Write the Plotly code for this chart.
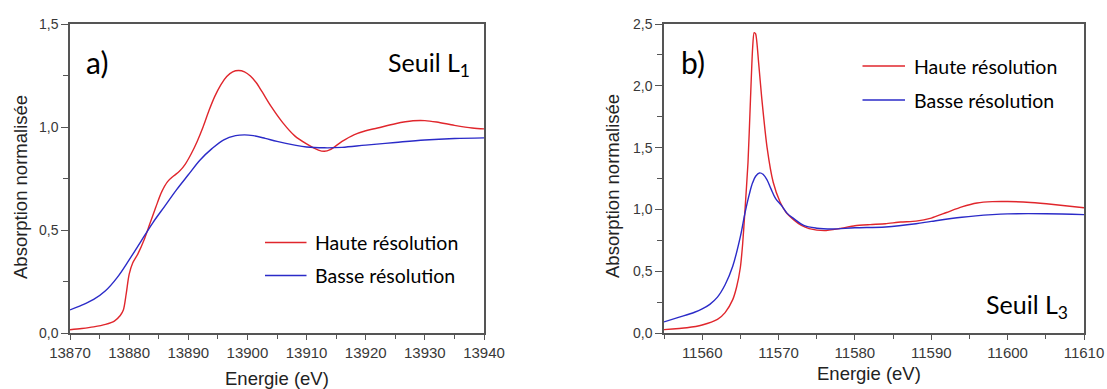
import plotly.graph_objects as go

# ---- data ----
# panel a) : seuil L1
energie_a = [13870, 13872, 13874, 13876, 13877.5, 13878.5, 13879, 13879.5, 13880, 13880.6,
             13881.5, 13882.5, 13883.5, 13884.5, 13885.5, 13886.5, 13887.5, 13888.5, 13889.5,
             13890.5, 13891.5, 13892.5, 13893.5, 13894.5, 13895.5, 13896.5, 13897.5, 13898.5,
             13899.5, 13900.5, 13901.5, 13902.5, 13904, 13906, 13908, 13910, 13912, 13913,
             13914, 13916, 13918, 13920, 13922, 13925, 13928, 13930, 13932, 13935, 13938, 13940]
haute_a = [0.016, 0.022, 0.030, 0.042, 0.058, 0.085, 0.11, 0.19, 0.285, 0.34,
           0.385, 0.45, 0.53, 0.61, 0.685, 0.735, 0.762, 0.785, 0.82,
           0.87, 0.93, 1.00, 1.08, 1.15, 1.205, 1.245, 1.268, 1.274,
           1.268, 1.248, 1.215, 1.17, 1.10, 1.02, 0.957, 0.918, 0.888, 0.882,
           0.89, 0.93, 0.962, 0.982, 0.995, 1.016, 1.030, 1.031, 1.024, 1.008, 0.995, 0.991]

energie_a_basse = [13870, 13872, 13874, 13876, 13878, 13880, 13882, 13884, 13886, 13888,
                   13890, 13892, 13894, 13896, 13898, 13899.5, 13901, 13903, 13905, 13908,
                   13910, 13913, 13916, 13920, 13925, 13930, 13935, 13940]
basse_a = [0.112, 0.135, 0.163, 0.205, 0.27, 0.355, 0.445, 0.535, 0.615, 0.695,
           0.768, 0.84, 0.895, 0.938, 0.958, 0.962, 0.958, 0.945, 0.93, 0.912,
           0.903, 0.899, 0.901, 0.912, 0.925, 0.937, 0.944, 0.947]

# panel b) : seuil L3
energie_b = [11555, 11558, 11560, 11562, 11563, 11564, 11564.5, 11565, 11565.3, 11565.6,
             11566, 11566.3, 11566.6, 11566.8, 11567.0, 11567.4, 11567.8, 11568.5, 11569.3,
             11570.2, 11571, 11572, 11573, 11574, 11576, 11578, 11580, 11582, 11584, 11586,
             11588, 11590, 11592, 11594, 11596, 11598, 11600, 11603, 11606, 11610]
haute_b = [0.027, 0.043, 0.065, 0.11, 0.165, 0.27, 0.37, 0.53, 0.72, 0.99,
           1.38, 1.85, 2.30, 2.43, 2.42, 2.18, 1.90, 1.50, 1.22,
           1.06, 0.975, 0.915, 0.87, 0.845, 0.828, 0.845, 0.868, 0.877, 0.884, 0.898,
           0.905, 0.93, 0.975, 1.02, 1.052, 1.063, 1.064, 1.056, 1.04, 1.013]

energie_b_basse = [11555, 11557, 11559, 11560, 11561, 11562, 11563, 11564, 11565, 11565.6,
                   11566.2, 11566.6, 11567.0, 11567.5, 11568.0, 11568.5, 11569, 11569.6,
                   11570.4, 11571.1, 11572, 11573.3, 11575, 11577, 11580, 11584, 11588,
                   11590, 11594, 11598, 11600, 11605, 11610]
basse_b = [0.09, 0.128, 0.168, 0.195, 0.232, 0.29, 0.39, 0.54, 0.78, 0.97,
           1.13, 1.215, 1.268, 1.295, 1.282, 1.238, 1.168, 1.09,
           1.03, 0.97, 0.925, 0.87, 0.848, 0.842, 0.851, 0.858, 0.884,
           0.903, 0.937, 0.958, 0.964, 0.965, 0.958]

noms = ["Haute résolution", "Basse résolution"]
ROUGE = "#e0262c"
BLEU = "#2b2bc8"

W, H = 1107, 389


def px(x):
    return x / W


def py(y):
    return 1 - y / H


fig = go.Figure()

# traces
fig.add_trace(go.Scatter(x=energie_a, y=haute_a, mode="lines", name=noms[0],
                         line=dict(color=ROUGE, width=1.4, shape="spline", smoothing=0.9),
                         xaxis="x", yaxis="y", showlegend=False))
fig.add_trace(go.Scatter(x=energie_a_basse, y=basse_a, mode="lines", name=noms[1],
                         line=dict(color=BLEU, width=1.4, shape="spline", smoothing=1),
                         xaxis="x", yaxis="y", showlegend=False))
fig.add_trace(go.Scatter(x=energie_b, y=haute_b, mode="lines", name=noms[0],
                         line=dict(color=ROUGE, width=1.4, shape="spline", smoothing=0.6),
                         xaxis="x2", yaxis="y2", showlegend=False))
fig.add_trace(go.Scatter(x=energie_b_basse, y=basse_b, mode="lines", name=noms[1],
                         line=dict(color=BLEU, width=1.4, shape="spline", smoothing=1),
                         xaxis="x2", yaxis="y2", showlegend=False))

AXE = "#555555"
TICKFONT_X = dict(family="Liberation Sans, Arial", size=15, color="#383838")
TICKFONT_Y = dict(family="Liberation Sans, Arial", size=14, color="#383838")

common_x = dict(showline=True, linecolor=AXE, linewidth=1.5, mirror=True,
                ticks="outside", ticklen=5, tickwidth=1.2, tickcolor=AXE,
                showgrid=False, zeroline=False, tickformat="d", dtick=10,
                tickfont=TICKFONT_X, automargin=False, ticklabeloverflow="allow",
                minor=dict(ticks="outside", ticklen=4, dtick=5, tickcolor=AXE, showgrid=False))
common_y = dict(showline=True, linecolor=AXE, linewidth=1.5, mirror=True,
                ticks="outside", ticklen=7, tickwidth=1.2, tickcolor=AXE,
                showgrid=False, zeroline=False, tickformat=".1f", dtick=0.5,
                tickfont=TICKFONT_Y, automargin=False, ticklabeloverflow="allow",
                minor=dict(ticks="outside", ticklen=5, dtick=0.25, tickcolor=AXE, showgrid=False))

y_dom = [py(333), py(24)]

fig.update_layout(
    width=W, height=H,
    margin=dict(l=0, r=0, t=0, b=0),
    paper_bgcolor="white", plot_bgcolor="white",
    separators=", ",
    xaxis=dict(domain=[px(70), px(484)], range=[13870, 13940], anchor="y", tick0=13870, **common_x),
    yaxis=dict(domain=y_dom, range=[0, 1.5], anchor="x", **common_y),
    xaxis2=dict(domain=[px(664), px(1084)], range=[11555, 11610], anchor="y2", tick0=11560, **common_x),
    yaxis2=dict(domain=y_dom, range=[0, 2.5], anchor="x2", **common_y),
)

TITRE = dict(family="Liberation Sans, Arial", size=18.5, color="#222222")
LEG = dict(family="Lato, Noto Sans", size=19.5, color="black")

annotations = [
    # axis titles
    dict(text="Energie (eV)", x=px(277), y=py(378), font=TITRE),
    dict(text="Energie (eV)", x=px(869), y=py(373), font=TITRE),
    dict(text="Absorption normalisée", x=px(20), y=py(187), textangle=-90, font=TITRE),
    dict(text="Absorption normalisée", x=px(612), y=py(186), textangle=-90, font=TITRE),
    # panel labels
    dict(text="a)", x=px(97), y=py(62), font=dict(family="Lato", size=30, color="black")),
    dict(text="b)", x=px(693), y=py(62), font=dict(family="Lato", size=30, color="black")),
    dict(text="Seuil L<sub>1</sub>", x=px(386), y=py(64), xanchor="left",
         font=dict(family="Lato", size=25, color="black")),
    dict(text="Seuil L<sub>3</sub>", x=px(984), y=py(306), xanchor="left",
         font=dict(family="Lato", size=25, color="black")),
    # legend texts
    dict(text=noms[0], x=px(313), y=py(242.5), xanchor="left", font=LEG),
    dict(text=noms[1], x=px(313), y=py(275.5), xanchor="left", font=LEG),
    dict(text=noms[0], x=px(912), y=py(66), xanchor="left", font=LEG),
    dict(text=noms[1], x=px(912), y=py(100), xanchor="left", font=LEG),
]
for a in annotations:
    a.setdefault("xref", "paper")
    a.setdefault("yref", "paper")
    a.setdefault("showarrow", False)
    a.setdefault("xanchor", "center")
    a.setdefault("yanchor", "middle")
fig.update_layout(annotations=annotations)

# legend line samples
for (x0, x1, y, c) in [(265, 306.5, 242.5, ROUGE), (265, 306.5, 275.5, BLEU),
                       (862.5, 905, 66, ROUGE), (862.5, 905, 100, BLEU)]:
    fig.add_shape(type="line", xref="paper", yref="paper",
                  x0=px(x0), x1=px(x1), y0=py(y), y1=py(y),
                  line=dict(color=c, width=1.6))

# the page body has a default 8px margin: remove it so the figure fills the window
fig.write_html("out.html", config={"displayModeBar": False},
               post_script="document.body.style.margin='0px';")
